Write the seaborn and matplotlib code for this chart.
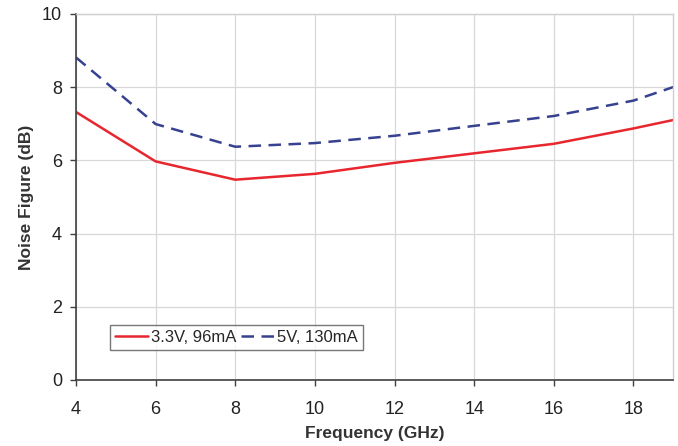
import matplotlib
matplotlib.use("Agg")
import matplotlib.pyplot as plt
import seaborn as sns
import pandas as pd

# Datos
frecuencia = [4, 6, 8, 10, 12, 14, 16, 18, 19]
nf_33v = [7.32, 5.97, 5.47, 5.63, 5.93, 6.19, 6.45, 6.87, 7.1]
nf_5v = [8.81, 6.99, 6.37, 6.47, 6.67, 6.94, 7.21, 7.63, 8.0]
series = ["3.3V, 96mA", "5V, 130mA"]

data = pd.DataFrame({
    "freq": frecuencia * 2,
    "nf": nf_33v + nf_5v,
    "serie": [series[0]] * len(frecuencia) + [series[1]] * len(frecuencia),
})

sns.set_style("white")
plt.rcParams["font.family"] = ["Liberation Sans", "DejaVu Sans"]

fig = plt.figure(figsize=(6.78, 4.46), dpi=100)
ax = fig.add_axes([0.112, 0.148, 0.881, 0.821])

sns.lineplot(data=data, x="freq", y="nf", hue="serie", style="serie",
             palette={series[0]: "#e8262e", series[1]: "#36428f"},
             dashes={series[0]: "", series[1]: (5, 3)},
             linewidth=1.8, ax=ax)

ax.set_xlim(4, 19)
ax.set_ylim(0, 10)
ax.set_xticks(range(4, 19, 2))
ax.set_yticks(range(0, 11, 2))
ax.grid(True, color="#d8d8d8", linewidth=0.9)
ax.tick_params(axis="both", labelsize=13, colors="#404040", length=4,
               width=1, direction="out", left=True, bottom=True)
ax.tick_params(axis="x", pad=11)
ax.tick_params(axis="y", pad=6)
for lbl in ax.get_xticklabels() + ax.get_yticklabels():
    lbl.set_color("#222222")
for s in ["left", "bottom"]:
    ax.spines[s].set_color("#404040")
    ax.spines[s].set_linewidth(1.2)
for s in ["top", "right"]:
    ax.spines[s].set_color("#cfcfcf")
    ax.spines[s].set_linewidth(1.0)

ax.set_xlabel("Frequency (GHz)", fontsize=12.5, fontweight="bold",
              color="#333333", labelpad=6)
ax.set_ylabel("Noise Figure (dB)", fontsize=12.5, fontweight="bold",
              color="#333333", labelpad=6)

leg = ax.legend(ncol=2, loc="lower left", bbox_to_anchor=(0.057, 0.082),
                fontsize=12, frameon=True, fancybox=False, handlelength=2.0,
                handletextpad=0.15, columnspacing=0.3, borderpad=0.3,
                borderaxespad=0)
leg.get_frame().set_edgecolor("#555555")
leg.get_frame().set_linewidth(1.0)
leg.set_title(None)

fig.savefig("out.png", dpi=100)
